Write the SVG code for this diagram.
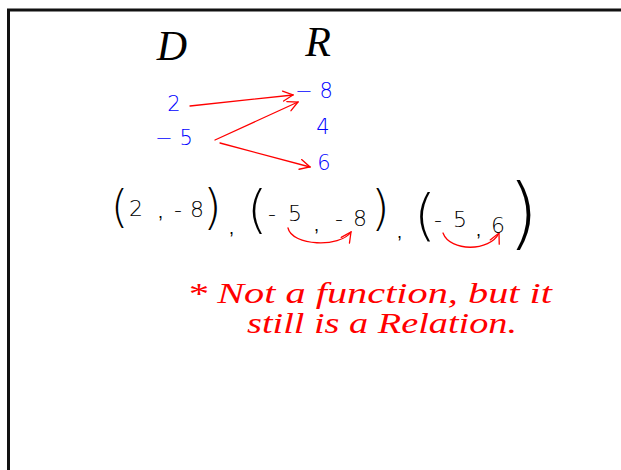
<svg xmlns="http://www.w3.org/2000/svg" width="621" height="470" viewBox="0 0 621 470">
<style>
.hd{font-family:"Liberation Serif",serif;font-style:italic;fill:#000;font-size:42px}
.bl{font-family:"DejaVu Sans","Liberation Sans",sans-serif;font-weight:200;fill:#0000ff;font-size:21px}
.bk{font-family:"DejaVu Sans","Liberation Sans",sans-serif;font-weight:200;fill:#000;font-size:22px}
.cm{font-family:"Liberation Sans",sans-serif;fill:#000;font-size:18px}
.pr{font-family:"DejaVu Sans","Liberation Sans",sans-serif;font-weight:200;fill:#000}
.rd{font-family:"Liberation Serif",serif;font-style:italic;fill:#f00;font-size:29px}
.ar{fill:none;stroke:#f00;stroke-width:1.3;stroke-linecap:round}
</style>
<defs>
<marker id="ah" viewBox="0 0 12 12" refX="11" refY="6" markerWidth="12" markerHeight="12" markerUnits="userSpaceOnUse" orient="auto">
<path d="M1 1 L11 6 L1 11" fill="none" stroke="#f00" stroke-width="1.3" stroke-linecap="round"/>
</marker>
</defs>
<rect width="621" height="470" fill="#fff"/>
<path d="M8.5 470 V10 H621" fill="none" stroke="#111" stroke-width="3"/>
<g id="label-D"><text class="hd" x="172" y="60" text-anchor="middle">D</text></g>
<g id="label-R"><text class="hd" x="318" y="56" text-anchor="middle">R</text></g>
<g id="domain-2"><text class="bl" x="174" y="111" text-anchor="middle">2</text></g>
<g id="domain-neg5"><text class="bl" x="174" y="145" text-anchor="middle">− 5</text></g>
<g id="range-neg8"><text class="bl" x="314" y="98" text-anchor="middle">− 8</text></g>
<g id="range-4"><text class="bl" x="323" y="134" text-anchor="middle">4</text></g>
<g id="range-6"><text class="bl" x="324" y="170" text-anchor="middle">6</text></g>
<g id="connectors">
<path class="ar" d="M190 106 L293 95" marker-end="url(#ah)"/>
<path class="ar" d="M215 140 L298 102" marker-end="url(#ah)"/>
<path class="ar" d="M220 143 L310 167" marker-end="url(#ah)"/>
<path class="ar" d="M288 228 C292 246 340 248 351 232" marker-end="url(#ah)"/>
<path class="ar" d="M443 233 C450 252 490 252 499 233" marker-end="url(#ah)"/>
</g>
<g id="pairs">
<text class="pr" x="111" y="222" font-size="44">(</text>
<text class="bk" x="129" y="216">2</text>
<text class="cm" x="158" y="218">,</text>
<text class="bk" x="174" y="217" textLength="30" lengthAdjust="spacing">-8</text>
<text class="pr" x="203" y="224" font-size="48">)</text>
<text class="cm" x="229" y="234">,</text>
<text class="pr" x="247" y="227" font-size="52">(</text>
<text class="bk" x="268" y="221" textLength="34" lengthAdjust="spacing">-5</text>
<text class="cm" x="314" y="231">,</text>
<text class="bk" x="335" y="226" textLength="32" lengthAdjust="spacing">-8</text>
<text class="pr" x="371" y="225" font-size="48">)</text>
<text class="cm" x="397" y="238">,</text>
<text class="pr" x="414" y="234" font-size="56">(</text>
<text class="bk" x="434" y="227" textLength="33" lengthAdjust="spacing">-5</text>
<text class="cm" x="476" y="236">,</text>
<text class="bk" x="491" y="233" font-size="18">6</text>
<text class="pr" x="508" y="240" font-size="78">)</text>
</g>
<g id="note">
<text class="rd" x="187" y="303" textLength="365" lengthAdjust="spacingAndGlyphs">* Not a function, but it</text>
<text class="rd" x="247" y="333" textLength="270" lengthAdjust="spacingAndGlyphs">still is a Relation.</text>
</g>
</svg>
